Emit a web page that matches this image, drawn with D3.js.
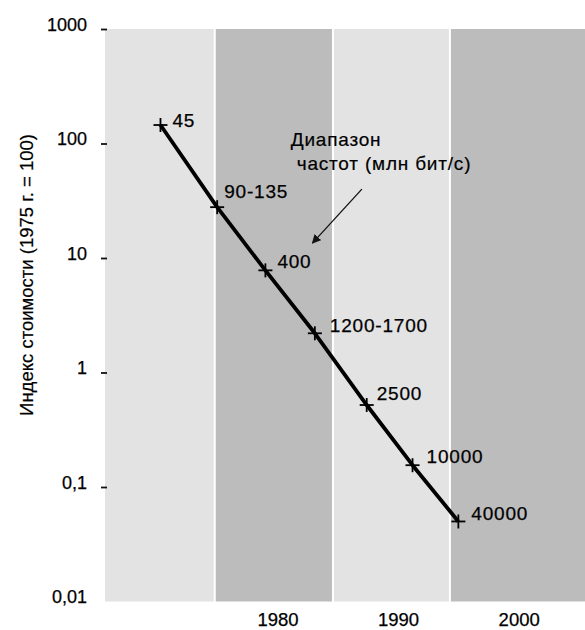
<!DOCTYPE html>
<html><head><meta charset="utf-8">
<script src="https://cdn.jsdelivr.net/npm/d3@7"></script>
<style>
html,body{margin:0;padding:0;background:#fff;}
svg{display:block;font-family:"Liberation Sans",Arial,sans-serif;}
</style></head>
<body>
<svg id="chart" width="585" height="630"></svg>
<script>
// ---- data ----
const years = [1970.3, 1975.0, 1979.0, 1983.1, 1987.4, 1991.2, 1995.0];
const costIndex = [145, 27.8, 7.8, 2.2, 0.52, 0.155, 0.05];
const bandwidthLabels = ["45", "90-135", "400", "1200-1700", "2500", "10000", "40000"];
const bandEdges = [1965.7, 1974.8, 1984.6, 1994.3, 2005.5];
const yTickValues = [1000, 100, 10, 1, 0.1, 0.01];
const yTickLabels = ["1000", "100", "10", "1", "0,1", "0,01"];
const xTickValues = [1980, 1990, 2000];
const xTickLabels = ["1980", "1990", "2000"];
const yTitle = "Индекс стоимости (1975 г. = 100)";
const noteLines = ["Диапазон", "частот (млн бит/с)"];

// ---- layout ----
const plotLeft = 105, plotRight = 585, plotTop = 29, plotBottom = 601.5;
const labelNudge = [[12,2],[7,-9],[12,-2],[15,-1],[10,-5],[14,-2],[13,-1]];
const svg = d3.select("#chart");
const FONT = "Liberation Sans, Arial, sans-serif";

const x = d3.scaleLinear().domain([bandEdges[0], bandEdges[bandEdges.length-1]]).range([plotLeft, plotRight]);
const y = d3.scaleLog().domain([0.01, 1000]).range([plotBottom, plotTop]);

// bands
const bandColors = ["#e3e3e3", "#bcbcbc"];
const bands = d3.range(bandEdges.length - 1).map(i => ({a: bandEdges[i], b: bandEdges[i+1], i}));
svg.append("g").selectAll("rect").data(bands).join("rect")
  .attr("x", d => x(d.a) + (d.i > 0 ? 1 : 0))
  .attr("width", d => x(d.b) - x(d.a) - (d.i > 0 ? 1 : 0) - (d.i < bands.length - 1 ? 1 : 0))
  .attr("y", plotTop).attr("height", plotBottom - plotTop)
  .attr("fill", d => bandColors[d.i % 2]);

// y axis
const yAxis = d3.axisLeft(y).tickValues(yTickValues)
  .tickFormat((d, i) => yTickLabels[i]).tickSize(6).tickPadding(14);
const gy = svg.append("g").attr("transform", `translate(${plotLeft + 2},0)`).call(yAxis);
gy.select(".domain").remove();
gy.selectAll(".tick line").attr("stroke", "#111").attr("stroke-width", 1.8)
  .attr("opacity", d => d === 0.01 ? 0 : 1);
gy.selectAll(".tick text").attr("font-size", 18).attr("fill", "#000")
  .attr("stroke", "#000").attr("stroke-width", 0.25)
  .attr("font-family", FONT).attr("dy", "0.08em");

// x axis
const xAxis = d3.axisBottom(x).tickValues(xTickValues)
  .tickFormat((d, i) => xTickLabels[i]).tickSize(0).tickPadding(11);
const gx = svg.append("g").attr("transform", `translate(0,${plotBottom})`).call(xAxis);
gx.select(".domain").remove();
gx.selectAll(".tick text").attr("font-size", 18.5).attr("fill", "#000")
  .attr("stroke", "#000").attr("stroke-width", 0.25)
  .attr("font-family", FONT);

// y title
svg.append("text")
  .attr("transform", `translate(33,275) rotate(-90)`)
  .attr("text-anchor", "middle").attr("font-size", 18.5).attr("fill", "#000")
  .attr("stroke", "#000").attr("stroke-width", 0.2)
  .text(yTitle);

// line
const pts = years.map((yr, i) => ({yr, v: costIndex[i], label: bandwidthLabels[i], n: labelNudge[i]}));
svg.append("path").datum(pts)
  .attr("d", d3.line().x(d => x(d.yr)).y(d => y(d.v)))
  .attr("fill", "none").attr("stroke", "#000").attr("stroke-width", 3.8)
  .attr("stroke-linejoin", "round");

// markers
const mk = svg.append("g").selectAll("g").data(pts).join("g")
  .attr("transform", d => `translate(${x(d.yr)},${y(d.v)})`);
mk.append("line").attr("x1", -7).attr("x2", 7).attr("stroke", "#000").attr("stroke-width", 1.8);
mk.append("line").attr("y1", -7).attr("y2", 7).attr("stroke", "#000").attr("stroke-width", 1.8);

// labels
svg.append("g").selectAll("text").data(pts).join("text")
  .attr("x", d => x(d.yr) + d.n[0])
  .attr("y", d => y(d.v) + d.n[1])
  .attr("font-size", 19).attr("fill", "#000").attr("letter-spacing", 0.8)
  .attr("stroke", "#000").attr("stroke-width", 0.25)
  .text(d => d.label);

// annotation
const noteAnchor = {yr: 1981.1, v: 97};
svg.append("g").selectAll("text").data(noteLines).join("text")
  .attr("x", (d, i) => x(noteAnchor.yr) + (i ? 6 : 0))
  .attr("y", (d, i) => y(noteAnchor.v) + 1 + i * 24)
  .attr("font-size", 19).attr("fill", "#000").attr("letter-spacing", 0.8)
  .attr("stroke", "#000").attr("stroke-width", 0.2)
  .text(d => d);

svg.append("defs").append("marker").attr("id", "ah")
  .attr("viewBox", "0 0 10 10").attr("refX", 9).attr("refY", 5)
  .attr("markerWidth", 9).attr("markerHeight", 9).attr("markerUnits", "userSpaceOnUse")
  .attr("orient", "auto")
  .append("path").attr("d", "M0,0 L10,5 L0,10 Z").attr("fill", "#111");
const arrowFrom = {yr: 1987.0, v: 40}, arrowTo = {yr: 1982.9, v: 13.5};
svg.append("line")
  .attr("x1", x(arrowFrom.yr)).attr("y1", y(arrowFrom.v))
  .attr("x2", x(arrowTo.yr)).attr("y2", y(arrowTo.v))
  .attr("stroke", "#111").attr("stroke-width", 1.3).attr("marker-end", "url(#ah)");
</script>
</body></html>
